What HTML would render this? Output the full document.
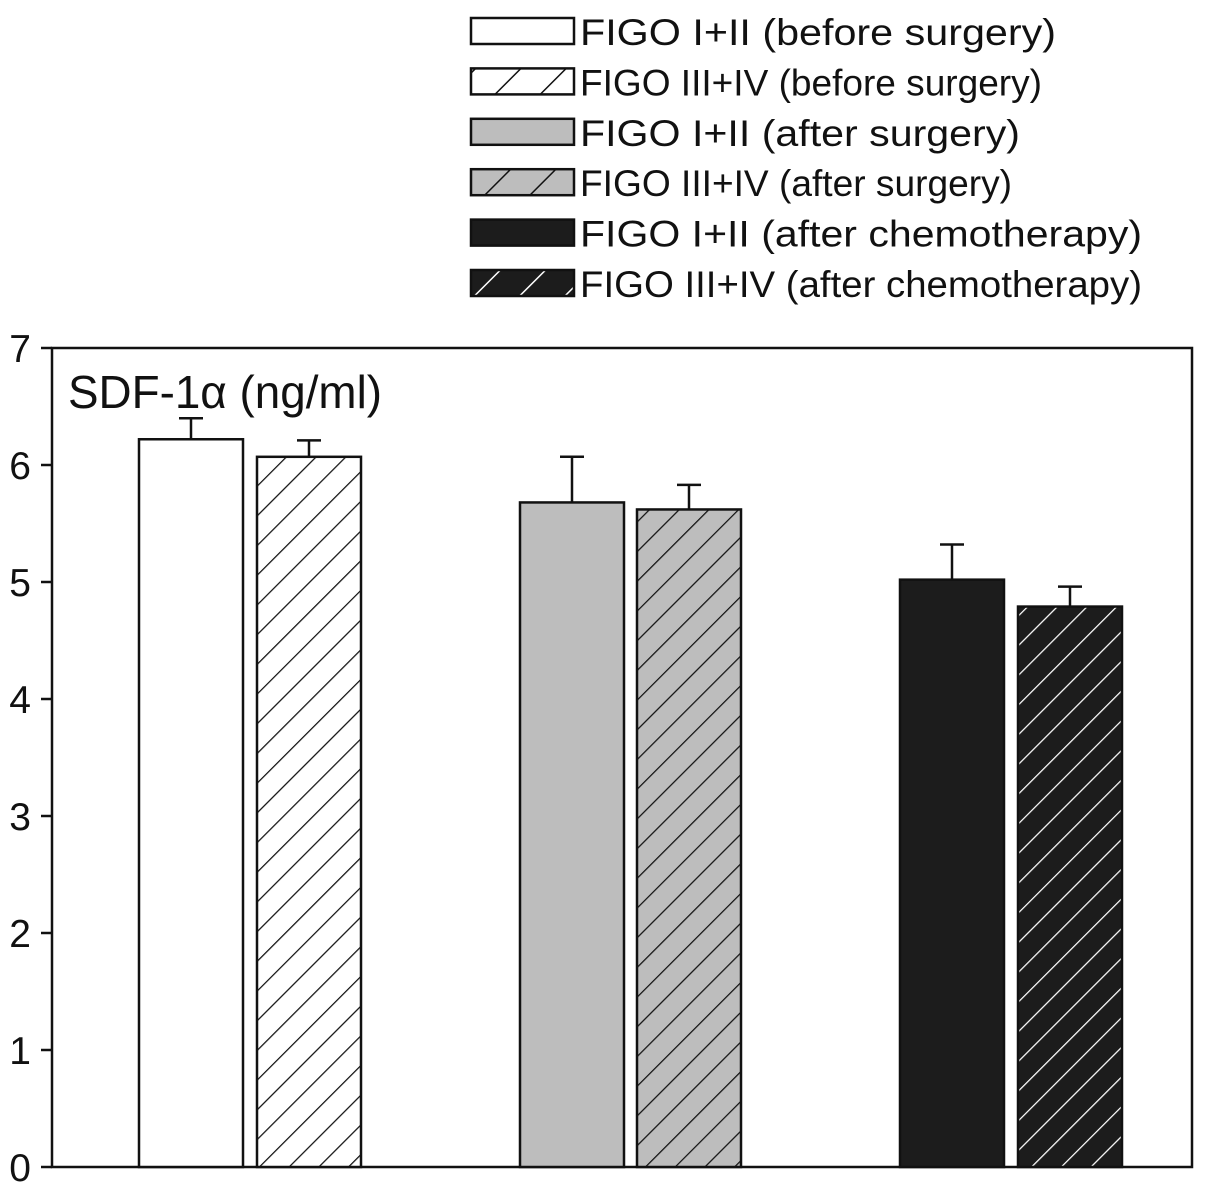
<!DOCTYPE html>
<html><head><meta charset="utf-8"><style>
body{margin:0;background:#fff}
svg{display:block}
text{font-family:"Liberation Sans",sans-serif;fill:#111}
</style></head><body>
<svg id="chart" width="1205" height="1191">
<defs>
<pattern id="hw" patternUnits="userSpaceOnUse" width="21" height="21" patternTransform="rotate(-45)"><rect width="21" height="21" fill="#fff"/><line x1="0" y1="0" x2="21" y2="0" stroke="#111" stroke-width="2.5"/></pattern>
<pattern id="hg" patternUnits="userSpaceOnUse" width="21" height="21" patternTransform="rotate(-45)"><rect width="21" height="21" fill="#bdbdbd"/><line x1="0" y1="0" x2="21" y2="0" stroke="#111" stroke-width="2.5"/></pattern>
<pattern id="hb" patternUnits="userSpaceOnUse" width="21" height="21" patternTransform="rotate(-45)"><rect width="21" height="21" fill="#1c1c1c"/><line x1="0" y1="0" x2="21" y2="0" stroke="#fff" stroke-width="2.5"/></pattern>
<pattern id="lw" patternUnits="userSpaceOnUse" width="32" height="32" patternTransform="rotate(-45)"><rect width="32" height="32" fill="#fff"/><line x1="0" y1="0" x2="32" y2="0" stroke="#111" stroke-width="3"/></pattern>
<pattern id="lg" patternUnits="userSpaceOnUse" width="32" height="32" patternTransform="rotate(-45)"><rect width="32" height="32" fill="#bdbdbd"/><line x1="0" y1="0" x2="32" y2="0" stroke="#111" stroke-width="3"/></pattern>
<pattern id="lb" patternUnits="userSpaceOnUse" width="32" height="32" patternTransform="rotate(-45)"><rect width="32" height="32" fill="#1c1c1c"/><line x1="0" y1="0" x2="32" y2="0" stroke="#fff" stroke-width="3"/></pattern>
</defs>
<g id="legend"></g>
<g id="axes"></g>
<g id="bars"></g>
<text x="68" y="408" font-size="46" textLength="314" lengthAdjust="spacingAndGlyphs">SDF-1α (ng/ml)</text>
</svg>
<script>
const categories=["FIGO I+II (before surgery)","FIGO III+IV (before surgery)","FIGO I+II (after surgery)","FIGO III+IV (after surgery)","FIGO I+II (after chemotherapy)","FIGO III+IV (after chemotherapy)"];
const values=[6.22,6.07,5.68,5.62,5.02,4.79];
const errors=[0.18,0.14,0.39,0.21,0.30,0.17];
const yTicks=[0,1,2,3,4,5,6,7];
const fills=["#fff","url(#hw)","#bdbdbd","url(#hg)","#1c1c1c","url(#hb)"];
const legFills=["#fff","url(#lw)","#bdbdbd","url(#lg)","#1c1c1c","url(#lb)"];
const legWidths=[476,462,440,432,562,562];
const NS="http://www.w3.org/2000/svg";
function mk(t,a,p){const e=document.createElementNS(NS,t);for(const k in a)e.setAttribute(k,a[k]);p.appendChild(e);return e;}
const L=52,R=1192,T=348,B=1167;
const y=v=>B-(v/7)*(B-T);
const barX=[139,257,520,637,900,1018],bw=104;
const axes=document.getElementById('axes');
const frame=mk('rect',{x:L,y:T,width:R-L,height:B-T,fill:'none',stroke:'#111','stroke-width':2.5},axes);


yTicks.forEach(v=>{
 const tk=mk('line',{x1:L-11,x2:L,y1:y(v),y2:y(v),stroke:'#111','stroke-width':2.5},axes);
 
 
 const lb=mk('text',{x:31,y:y(v)+14,'font-size':39,'text-anchor':'end'},axes);
 lb.textContent=v;
 
 
});
const bars=document.getElementById('bars');
values.forEach((v,i)=>{
 const x=barX[i],cx=x+bw/2,et=y(v+errors[i]);
 const el=mk('line',{x1:cx,x2:cx,y1:y(v),y2:et,stroke:'#111','stroke-width':2.5},bars);
 
 
 const ec=mk('line',{x1:cx-12,x2:cx+12,y1:et,y2:et,stroke:'#111','stroke-width':2.5},bars);
 
 
 const r=mk('rect',{x:x,y:y(v),width:bw,height:B-y(v),fill:fills[i],stroke:'#111','stroke-width':2.5},bars);
 
 
});
const leg=document.getElementById('legend');
categories.forEach((c,i)=>{
 const ty=18+i*50.4;
 const r=mk('rect',{x:471,y:ty,width:103,height:26,fill:legFills[i],stroke:'#111','stroke-width':2.5},leg);
 
 
 const t=mk('text',{x:580,y:ty+27,'font-size':37,textLength:legWidths[i],lengthAdjust:'spacingAndGlyphs'},leg);
 t.textContent=c;
 
 
});
</script>
</body></html>
